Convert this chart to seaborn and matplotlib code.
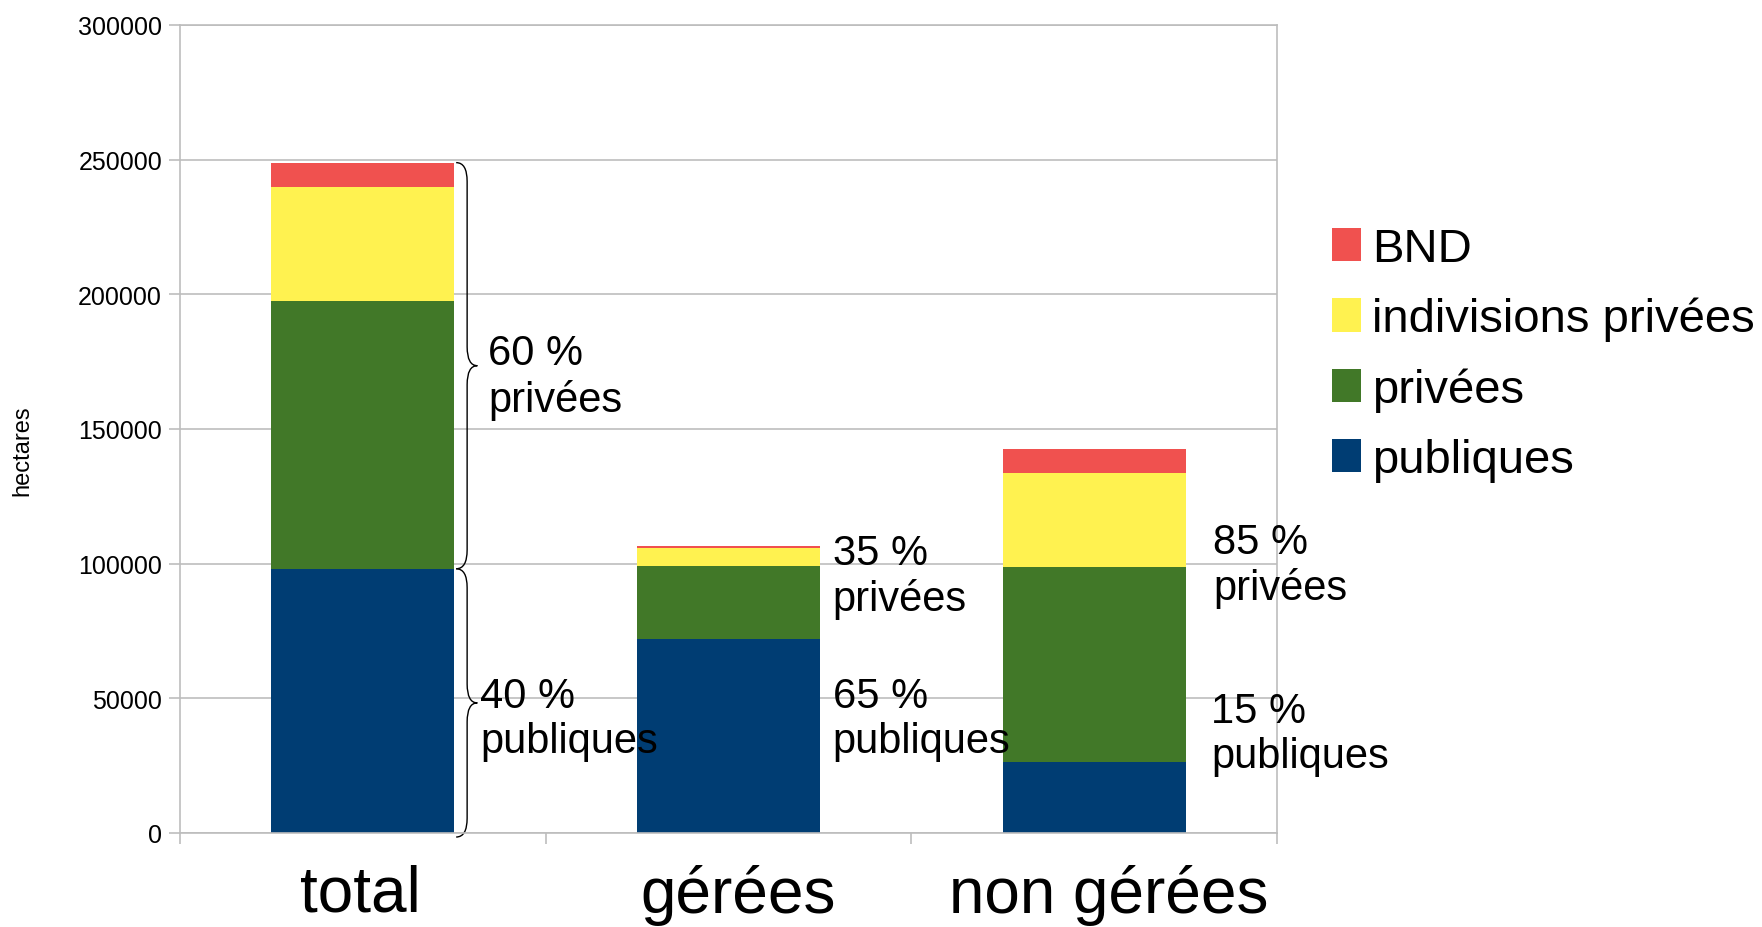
import matplotlib.pyplot as plt
import numpy as np
import pandas as pd
import seaborn as sns
from matplotlib.patches import Patch, PathPatch
from matplotlib.path import Path
from matplotlib.transforms import ScaledTranslation

# surfaces (hectares)
categories = ["total", "gérées", "non gérées"]
publiques = [98100, 72050, 26350]
privees = [99500, 26950, 72400]
indivisions = [42100, 6950, 34900]
bnd = [9200, 750, 8900]

series_names = ["publiques", "privées", "indivisions privées", "BND"]
pct_labels = ["60 %\nprivées", "40 %\npubliques",
              "35 %\nprivées", "65 %\npubliques",
              "85 %\nprivées", "15 %\npubliques"]

COLORS = {"publiques": "#003d73", "privées": "#417828",
          "indivisions privées": "#fff250", "BND": "#f0514f"}
GRID = "#bdbdbd"


def draw_brace(ax, x0, x1, x2, ytop, ybot, r):
    # "}" shaped brace between ytop and ybot, tip pointing right at x2
    ymid = (ytop + ybot) / 2
    verts = [(x0, ytop), (x1, ytop), (x1, ytop - r),
             (x1, ymid + r),
             (x1, ymid), (x2, ymid),
             (x1, ymid), (x1, ymid - r),
             (x1, ybot + r),
             (x1, ybot), (x0, ybot)]
    codes = [Path.MOVETO, Path.CURVE3, Path.CURVE3,
             Path.LINETO,
             Path.CURVE3, Path.CURVE3,
             Path.CURVE3, Path.CURVE3,
             Path.LINETO,
             Path.CURVE3, Path.CURVE3]
    ax.add_patch(PathPatch(Path(verts, codes), fill=False, lw=1.0,
                           edgecolor="black", clip_on=False))


if __name__ == '__main__':
    sns.set_theme(style="white")
    plt.rcParams['font.family'] = ['Liberation Sans', 'DejaVu Sans']
    plt.rcParams.update({"text.color": "black", "axes.labelcolor": "black",
                         "xtick.color": "black", "ytick.color": "black"})

    df = pd.DataFrame({"categorie": categories, "publiques": publiques,
                       "privées": privees, "indivisions privées": indivisions,
                       "BND": bnd})
    # cumulative heights for stacking (tallest drawn first)
    cum = df[series_names].cumsum(axis=1)
    cum["categorie"] = df["categorie"]

    fig = plt.figure(figsize=(17.62, 9.28), dpi=100)
    ax = fig.add_axes([0.1022, 0.1013, 0.6226, 0.8707])

    for name in reversed(series_names):
        sns.barplot(data=cum, x="categorie", y=name, color=COLORS[name],
                    width=0.5, saturation=1, linewidth=0, edgecolor="none",
                    ax=ax)

    ax.set_xlim(-0.5, 2.5)
    ax.set_ylim(0, 300000)
    ax.set_yticks(np.arange(0, 300001, 50000))
    ax.yaxis.grid(True, color=GRID, lw=1.2)
    ax.set_axisbelow(True)
    for s in ax.spines.values():
        s.set_color(GRID)
        s.set_linewidth(1.2)

    ax.set_xticks([-0.5, 0.5, 1.5, 2.5], minor=True)
    ax.tick_params(axis="x", which="major", length=0, labelsize=46, pad=22)
    ax.tick_params(axis="x", which="minor", bottom=True, length=8,
                   color=GRID, width=1.2)
    ax.tick_params(axis="y", left=True, length=8, color=GRID, width=1.2,
                   labelsize=18, pad=5)
    ax.set_xlabel("")
    ax.set_ylabel("hectares", fontsize=17)
    ax.yaxis.set_label_coords(-0.134, 0.474)

    # nudge the category labels a little, as in the reference
    for lab, dx in zip(ax.get_xticklabels(), [-3, 9, 14]):
        lab.set_transform(lab.get_transform()
                          + ScaledTranslation(dx / 100, 0, fig.dpi_scale_trans))

    # braces beside the total bar
    tot_pub = publiques[0]
    tot_top = publiques[0] + privees[0] + indivisions[0] + bnd[0]
    draw_brace(ax, 0.255, 0.285, 0.313, tot_top, tot_pub, 7000)
    draw_brace(ax, 0.255, 0.285, 0.313, tot_pub, -1500, 7000)

    # percentage annotations
    label_pos = [(0.342, 169500), (0.320, 42500),
                 (1.285, 95500), (1.285, 42500),
                 (2.325, 99500), (2.320, 37000)]
    for txt, (x, y) in zip(pct_labels, label_pos):
        ax.text(x, y, txt, fontsize=30, ha="left", va="center",
                linespacing=1.17, clip_on=False)

    handles = [Patch(facecolor=COLORS[n], edgecolor="none") for n in reversed(series_names)]
    fig.legend(handles, list(reversed(series_names)), loc="center left",
               bbox_to_anchor=(0.756, 0.617), frameon=False, fontsize=34,
               handlelength=0.62, handleheight=0.72, handletextpad=0.23,
               labelspacing=0.55, borderpad=0, borderaxespad=0)

    plt.savefig("out.png", dpi=100)
    plt.close()
